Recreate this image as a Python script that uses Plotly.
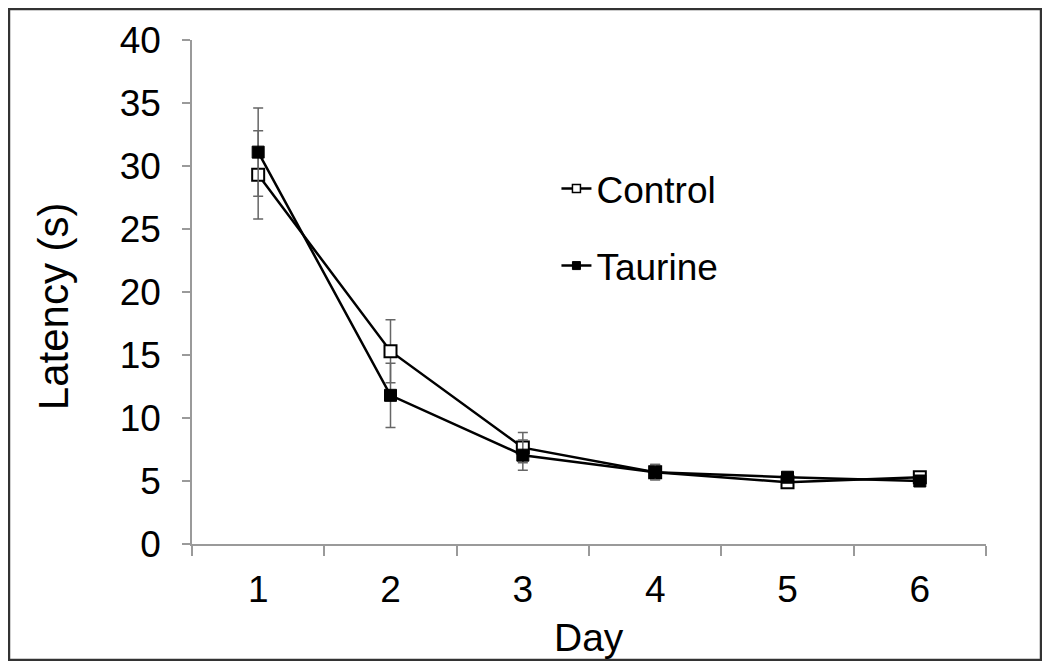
import plotly.graph_objects as go

days = ["1", "2", "3", "4", "5", "6"]
control = [29.3, 15.3, 7.65, 5.7, 4.9, 5.3]
control_err = [3.5, 2.5, 1.2, 0.6, 0.4, 0.3]
taurine = [31.1, 11.8, 7.05, 5.7, 5.3, 5.0]
taurine_err = [3.5, 2.55, 1.2, 0.6, 0.4, 0.3]
y_ticks = [0, 5, 10, 15, 20, 25, 30, 35, 40]

FONT = "Liberation Sans, Arial, sans-serif"
err_style = dict(type="data", thickness=1.5, width=5, color="#666666")

fig = go.Figure()
fig.add_trace(go.Scatter(
    x=days, y=control, mode="lines+markers", name="Control", showlegend=False,
    error_y=dict(array=control_err, **err_style),
    line=dict(color="black", width=2.5),
    marker=dict(symbol="square", size=12, color="white", line=dict(color="black", width=2)),
))
fig.add_trace(go.Scatter(
    x=days, y=taurine, mode="lines+markers", name="Taurine", showlegend=False,
    error_y=dict(array=taurine_err, **err_style),
    line=dict(color="black", width=2.5),
    marker=dict(symbol="square", size=12, color="black", line=dict(color="black", width=1)),
))
# legend entries (smaller markers, as in the reference legend)
fig.add_trace(go.Scatter(
    x=[None], y=[None], mode="lines+markers", name="Control", legendgroup="c",
    line=dict(color="black", width=2.5),
    marker=dict(symbol="square", size=8, color="white", line=dict(color="black", width=1.5)),
))
fig.add_trace(go.Scatter(
    x=[None], y=[None], mode="lines+markers", name="Taurine", legendgroup="t",
    line=dict(color="black", width=2.5),
    marker=dict(symbol="square", size=8, color="black", line=dict(color="black", width=1)),
))

fig.update_layout(
    width=1034, height=653,
    margin=dict(l=184, r=56, t=32, b=117),
    paper_bgcolor="white", plot_bgcolor="white",
    font=dict(family=FONT, size=37, color="black"),
    showlegend=True,
    legend=dict(x=0.459, y=0.766, xanchor="left", yanchor="top",
                bgcolor="rgba(0,0,0,0)", font=dict(size=37),
                traceorder="grouped", tracegroupgap=26, itemwidth=30),
    xaxis=dict(
        type="category", range=[-0.5, 5.5],
        showline=True, linecolor="#9a9a9a", linewidth=1.5,
        ticks="outside", ticklen=10, tickcolor="#9a9a9a", tickwidth=1.5,
        tickson="boundaries", showgrid=False, zeroline=False,
        ticklabelstandoff=12,
        tickfont=dict(size=37),
    ),
    yaxis=dict(
        range=[0, 40], tickvals=y_ticks,
        showline=True, linecolor="#9a9a9a", linewidth=1.5,
        ticks="outside", ticklen=8, tickcolor="#9a9a9a", tickwidth=1.5,
        showgrid=False, zeroline=False,
        ticklabelstandoff=14,
        tickfont=dict(size=37),
    ),
    annotations=[
        dict(text="Day", xref="paper", yref="paper", x=0.5, y=-0.185,
             xanchor="center", yanchor="middle", showarrow=False,
             font=dict(size=39)),
        dict(text="Latency (s)", xref="paper", yref="paper", x=-0.175, y=0.472,
             xanchor="center", yanchor="middle", showarrow=False, textangle=-90,
             font=dict(size=42)),
    ],
    shapes=[dict(type="rect", xref="paper", yref="paper",
                 x0=-0.2305, x1=1.0693, y0=-0.2302, y1=1.0615,
                 line=dict(color="#333333", width=2.5), fillcolor="rgba(0,0,0,0)",
                 layer="above")],
)

fig.write_html("out.html")
